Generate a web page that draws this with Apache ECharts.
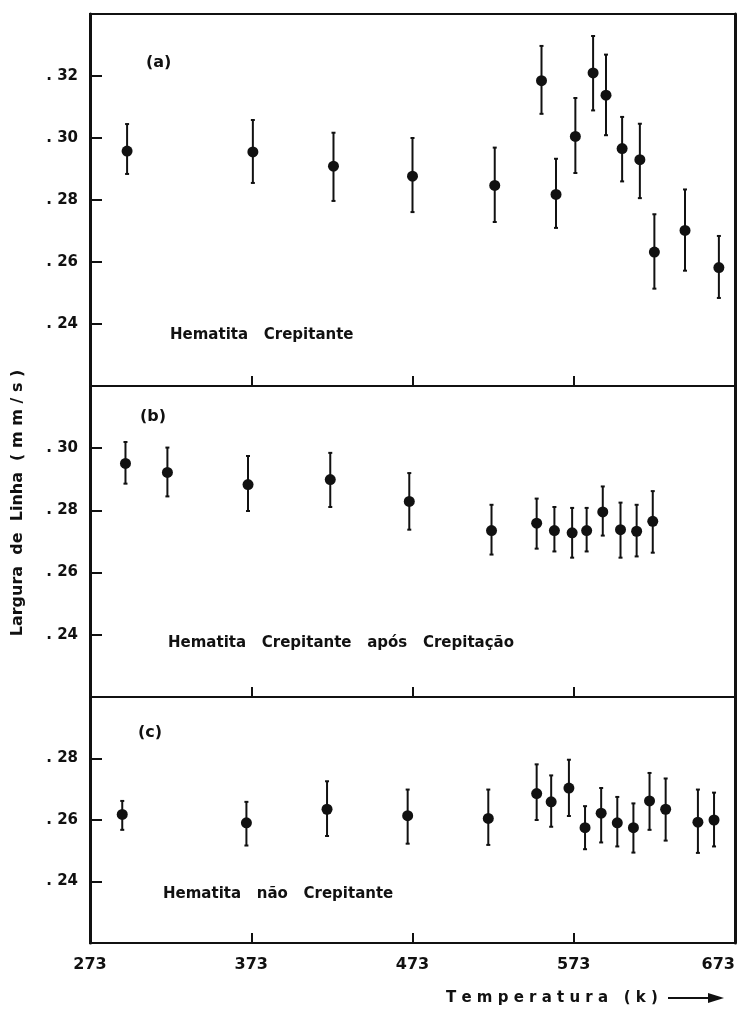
<!DOCTYPE html>
<html>
<head>
<meta charset="utf-8">
<title>Largura de Linha</title>
<script src="https://cdn.jsdelivr.net/npm/echarts@6/dist/echarts.min.js"></script>
<style>
  html, body { margin: 0; padding: 0; background: #fff; }
  #chart { width: 753px; height: 1017px; }
</style>
</head>
<body>
<div id="chart"></div>
<script>
// x ticks
const tempTicks = [273, 373, 473, 573, 673];

// (a) Hematita Crepitante
const tempA = [296, 374, 424, 473, 524, 553, 562, 574, 585, 593, 603, 614, 623, 642, 663];
const valA  = [.2958, .2955, .2909, .2877, .2847, .3185, .2818, .3005, .3210, .3138, .2966, .2930, .2632, .2702, .2582];
const hiA   = [.3045, .3058, .3017, .3000, .2969, .3297, .2933, .3129, .3329, .3269, .3068, .3046, .2754, .2834, .2684];
const loA   = [.2884, .2855, .2797, .2761, .2729, .3078, .2710, .2887, .3089, .3009, .2860, .2806, .2514, .2572, .2484];

// (b) Hematita Crepitante após Crepitação
const tempB = [295, 321, 371, 422, 471, 522, 550, 561, 572, 581, 591, 602, 612, 622];
const valB  = [.2951, .2922, .2883, .2899, .2829, .2735, .2759, .2735, .2728, .2735, .2795, .2738, .2733, .2765];
const hiB   = [.3020, .3002, .2975, .2985, .2920, .2818, .2838, .2811, .2808, .2808, .2877, .2825, .2818, .2862];
const loB   = [.2886, .2845, .2798, .2811, .2738, .2658, .2677, .2668, .2648, .2668, .2719, .2648, .2652, .2664];

// (c) Hematita não Crepitante
const tempC = [293, 370, 420, 470, 520, 550, 559, 570, 580, 590, 600, 610, 620, 630, 650, 660];
const valC  = [.2618, .2591, .2635, .2614, .2605, .2686, .2659, .2704, .2575, .2622, .2591, .2575, .2662, .2635, .2593, .2600];
const hiC   = [.2662, .2659, .2726, .2699, .2699, .2781, .2745, .2796, .2645, .2704, .2675, .2654, .2753, .2735, .2699, .2689];
const loC   = [.2568, .2517, .2548, .2523, .2519, .2600, .2578, .2613, .2505, .2527, .2514, .2494, .2568, .2533, .2493, .2514];

const yRanges = [[0.22, 0.34], [0.22, 0.32], [0.22, 0.30]];

const ink = "#111";
const font = "DejaVu Sans";

const chart = echarts.init(document.getElementById("chart"));

const grids = [
  { left: 90, right: 18, top: 14, height: 372 },
  { left: 90, right: 18, top: 386, height: 311 },
  { left: 90, right: 18, top: 697, height: 246 },
].map(g => Object.assign(g, {
  show: true,
  borderColor: ink,
  borderWidth: 2,
  containLabel: false,
  outerBoundsMode: "none",
}));

const xAxes = grids.map((g, i) => ({
  type: "value",
  gridIndex: i,
  min: tempTicks[0],
  max: tempTicks[tempTicks.length - 1],
  interval: 100,
  splitLine: { show: false },
  axisLine: { lineStyle: { color: ink, width: 2 } },
  axisTick: { inside: true, length: 10, lineStyle: { color: ink, width: 2 } },
  axisLabel: {
    show: i === 2,
    margin: 14,
    color: ink,
    fontFamily: font,
    fontWeight: "bold",
    fontSize: 16,
    alignMaxLabel: "right",
  },
}));

const yAxes = yRanges.map((r, i) => ({
  type: "value",
  gridIndex: i,
  min: r[0],
  max: r[1],
  interval: 0.02,
  splitLine: { show: false },
  axisLine: { lineStyle: { color: ink, width: 3 } },
  axisTick: { inside: true, length: 12, lineStyle: { color: ink, width: 2 } },
  axisLabel: {
    showMinLabel: false,
    showMaxLabel: false,
    margin: 12,
    color: ink,
    fontFamily: font,
    fontWeight: "bold",
    fontSize: 15,
    formatter: v => ". " + v.toFixed(2).slice(2),
  },
}));

// right frame edge, a bit heavier like the drawing
const rightEdges = yRanges.map((r, i) => ({
  type: "value",
  gridIndex: i,
  position: "right",
  min: r[0],
  max: r[1],
  splitLine: { show: false },
  axisLine: { lineStyle: { color: ink, width: 3 } },
  axisTick: { show: false },
  axisLabel: { show: false },
}));

function renderBar(params, api) {
  const x = api.value(0);
  const top = api.coord([x, api.value(2)]);
  const bot = api.coord([x, api.value(1)]);
  const st = { stroke: ink, lineWidth: 2 };
  return {
    type: "group",
    children: [
      { type: "line", shape: { x1: top[0], y1: top[1], x2: bot[0], y2: bot[1] }, style: st },
      { type: "line", shape: { x1: top[0] - 2, y1: top[1], x2: top[0] + 2, y2: top[1] }, style: st },
      { type: "line", shape: { x1: bot[0] - 2, y1: bot[1], x2: bot[0] + 2, y2: bot[1] }, style: st },
    ],
  };
}

const panels = [
  [tempA, valA, hiA, loA],
  [tempB, valB, hiB, loB],
  [tempC, valC, hiC, loC],
];

const series = [];
panels.forEach((p, i) => {
  const [t, v, hi, lo] = p;
  series.push({
    type: "custom",
    xAxisIndex: i,
    yAxisIndex: i,
    renderItem: renderBar,
    encode: { x: 0, y: [1, 2] },
    data: t.map((x, k) => [x, lo[k], hi[k]]),
    silent: true,
    z: 2,
  });
  series.push({
    type: "scatter",
    xAxisIndex: i,
    yAxisIndex: i,
    symbol: "circle",
    symbolSize: 11,
    itemStyle: { color: ink, opacity: 1 },
    data: t.map((x, k) => [x, v[k]]),
    z: 3,
  });
});

const txt = (x, y, text, size, extra) => Object.assign({
  type: "text",
  x: x,
  y: y,
  style: {
    text: text,
    fill: ink,
    font: "bold " + size + "px '" + font + "'",
    textVerticalAlign: "middle",
  },
}, extra || {});

const option = {
  backgroundColor: "#fff",
  animation: false,
  grid: grids,
  xAxis: xAxes,
  yAxis: yAxes.concat(rightEdges),
  series: series,
  graphic: [
    txt(146, 63, "(a)", 16),
    txt(140, 417, "(b)", 16),
    txt(138, 733, "(c)", 16),
    txt(170, 335, "Hematita   Crepitante", 15),
    txt(168, 643, "Hematita   Crepitante   após   Crepitação", 15),
    txt(163, 894, "Hematita   não   Crepitante", 15),
    {
      type: "text",
      x: 18,
      y: 503,
      rotation: Math.PI / 2,
      style: {
        text: "Largura  de  Linha  ( m m / s )",
        fill: ink,
        font: "bold 16px '" + font + "'",
        textAlign: "center",
        textVerticalAlign: "middle",
      },
    },
    txt(446, 998, "T e m p e r a t u r a   ( k )", 15),
    { type: "line", shape: { x1: 668, y1: 998, x2: 712, y2: 998 }, style: { stroke: ink, lineWidth: 2 } },
    { type: "polygon", shape: { points: [[724, 998], [708, 993], [708, 1003]] }, style: { fill: ink } },
  ],
};

chart.setOption(option);
</script>
</body>
</html>
